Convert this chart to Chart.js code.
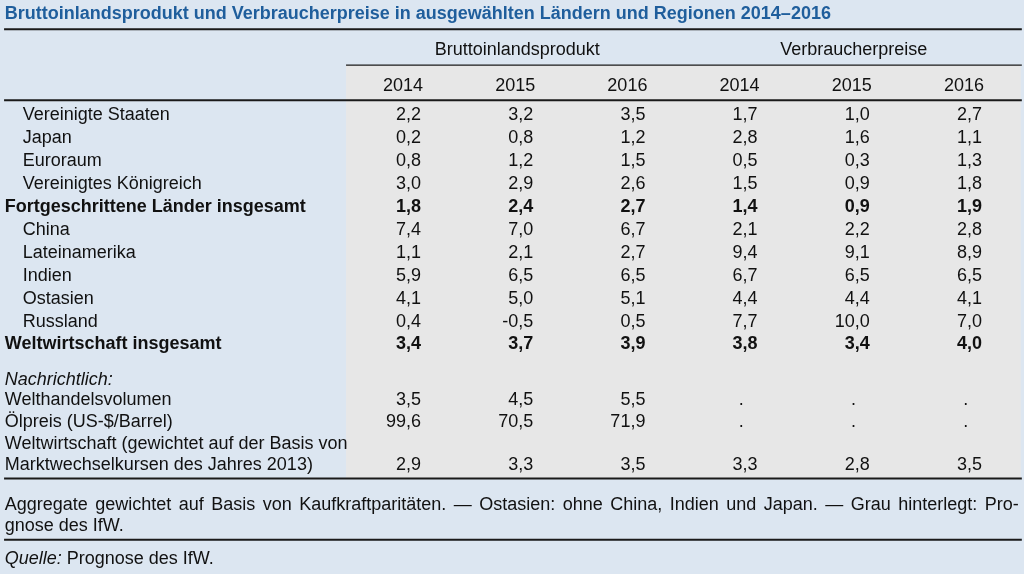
<!DOCTYPE html>
<html><head><meta charset="utf-8">
<script src="https://cdn.jsdelivr.net/npm/chart.js@4/dist/chart.umd.min.js"></script>
<style>html,body{margin:0;padding:0;background:#dce6f1;overflow:hidden}#wrap{width:1024px;height:574px}</style>
</head><body><div id="wrap"><canvas id="c" width="1024" height="574"></canvas></div>
<script>
// ---------------- DATA ----------------
const title = 'Bruttoinlandsprodukt und Verbraucherpreise in ausgewählten Ländern und Regionen 2014–2016';
const groupHeaders = ['Bruttoinlandsprodukt', 'Verbraucherpreise'];
const years = ['2014', '2015', '2016', '2014', '2015', '2016'];
const categories = [
  'Vereinigte Staaten', 'Japan', 'Euroraum', 'Vereinigtes Königreich',
  'Fortgeschrittene Länder insgesamt', 'China', 'Lateinamerika', 'Indien',
  'Ostasien', 'Russland', 'Weltwirtschaft insgesamt', 'Nachrichtlich:',
  'Welthandelsvolumen', 'Ölpreis (US-$/Barrel)',
  'Weltwirtschaft (gewichtet auf der Basis von\nMarktwechselkursen des Jahres 2013)'
];
const bip2014 = [2.2, 0.2, 0.8, 3.0, 1.8, 7.4, 1.1, 5.9, 4.1, 0.4, 3.4, null, 3.5, 99.6, 2.9];
const bip2015 = [3.2, 0.8, 1.2, 2.9, 2.4, 7.0, 2.1, 6.5, 5.0, -0.5, 3.7, null, 4.5, 70.5, 3.3];
const bip2016 = [3.5, 1.2, 1.5, 2.6, 2.7, 6.7, 2.7, 6.5, 5.1, 0.5, 3.9, null, 5.5, 71.9, 3.5];
const vpi2014 = [1.7, 2.8, 0.5, 1.5, 1.4, 2.1, 9.4, 6.7, 4.4, 7.7, 3.8, null, '.', '.', 3.3];
const vpi2015 = [1.0, 1.6, 0.3, 0.9, 0.9, 2.2, 9.1, 6.5, 4.4, 10.0, 3.4, null, '.', '.', 2.8];
const vpi2016 = [2.7, 1.1, 1.3, 1.8, 1.9, 2.8, 8.9, 6.5, 4.1, 7.0, 4.0, null, '.', '.', 3.5];
const footnote = 'Aggregate gewichtet auf Basis von Kaufkraftparitäten. — Ostasien: ohne China, Indien und Japan. — Grau hinterlegt: Pro-|gnose des IfW.';
const sourceLabel = 'Quelle:';
const sourceText = ' Prognose des IfW.';

// ---------------- LAYOUT / STYLE ----------------
const series = [bip2014, bip2015, bip2016, vpi2014, vpi2015, vpi2016];
const rowStyle = ['indent','indent','indent','indent','bold','indent','indent','indent','indent','indent','bold','italic','plain','plain','plain'];
const rowSlot = [0,1,2,3,4,5,6,7,8,9,10,11.53,12.42,13.4,15.27];
const X0 = 421, XU = 112.2, Y0 = 114, YU = 22.9, W = 1024, H = 574;
const FS = 18, TDY = 1.5;
const FONT = FS + 'px "Liberation Sans", Arial, Helvetica, sans-serif';
const BG = '#dce6f1', GREY = '#e7e7e7', INK = '#111111', LINE = '#1a1a1a', TITLE = '#1f5e9c';
const U = { // layout in scale units
  labelX: -3.71, indentX: -3.55, greyL: -0.668, greyR: 5.345, lineL: -3.716, lineR: 5.355,
  titleY: -4.45, topLine: -3.70, groupY: -2.84, groupLine: -2.135, yearY: -1.27, headLine: -0.605,
  tableEnd: 15.92, footY1: 17.0, footY2: 17.93, footLine: 18.59, srcY: 19.38, weltLine1: 14.35,
  dotOff: -0.145
};

const fmt = v => (v === '.' ? '.' : v.toFixed(1).replace('.', ','));

const tablePlugin = {
  id: 'tableDraw',
  beforeDatasetsDraw(chart) {
    const ctx = chart.ctx, xs = chart.scales.x, ys = chart.scales.y;
    const px = v => xs.getPixelForValue(v), py = v => ys.getPixelForValue(v);
    const ty = v => ys.getPixelForValue(v) + TDY;
    ctx.save();
    ctx.fillStyle = BG; ctx.fillRect(0, 0, W, H);
    ctx.fillStyle = GREY;
    ctx.fillRect(px(U.greyL), py(U.groupLine), px(U.greyR) - px(U.greyL), py(U.tableEnd) - py(U.groupLine));
    const hline = (x1, x2, y, w) => { ctx.strokeStyle = LINE; ctx.lineWidth = w; ctx.beginPath(); ctx.moveTo(px(x1), py(y)); ctx.lineTo(px(x2), py(y)); ctx.stroke(); };
    hline(U.lineL, U.lineR, U.topLine, 2);
    hline(U.greyL, U.lineR, U.groupLine, 1.3);
    hline(U.lineL, U.lineR, U.headLine, 2);
    hline(U.lineL, U.lineR, U.tableEnd, 2);
    hline(U.lineL, U.lineR, U.footLine, 2);
    ctx.textBaseline = 'middle';
    ctx.fillStyle = TITLE; ctx.font = 'bold ' + FONT; ctx.textAlign = 'left';
    ctx.fillText(title, px(U.labelX), ty(U.titleY));
    ctx.fillStyle = INK; ctx.font = FONT; ctx.textAlign = 'center';
    ctx.fillText(groupHeaders[0], (px(0) + px(2)) / 2 - 16, ty(U.groupY));
    ctx.fillText(groupHeaders[1], (px(3) + px(5)) / 2 - 16, ty(U.groupY));
    ctx.textAlign = 'right';
    years.forEach((y, c) => ctx.fillText(y, px(c) + 2, ty(U.yearY)));
    ctx.textAlign = 'left';
    categories.forEach((lab, i) => {
      const st = rowStyle[i];
      ctx.font = (st === 'bold' ? 'bold ' : st === 'italic' ? 'italic ' : '') + FONT;
      const x = st === 'indent' ? px(U.indentX) : px(U.labelX);
      const parts = lab.split('\n');
      if (parts.length === 2) {
        ctx.fillText(parts[0], x, ty(U.weltLine1));
        ctx.fillText(parts[1], x, ty(rowSlot[i]));
      } else ctx.fillText(lab, x, ty(rowSlot[i]));
    });
    ctx.font = FONT;
    const [f1, f2] = footnote.split('|');
    const words = f1.split(' ');
    const left = px(U.labelX), right = px(U.lineR) - 3;
    const wsum = words.reduce((s, w) => s + ctx.measureText(w).width, 0);
    const gap = (right - left - wsum) / (words.length - 1);
    let x = left;
    words.forEach(w => { ctx.fillText(w, x, ty(U.footY1)); x += ctx.measureText(w).width + gap; });
    ctx.fillText(f2, left, ty(U.footY2));
    ctx.font = 'italic ' + FONT;
    ctx.fillText(sourceLabel, left, ty(U.srcY));
    const sw = ctx.measureText(sourceLabel).width;
    ctx.font = FONT;
    ctx.fillText(sourceText, left + sw, ty(U.srcY));
    ctx.restore();
  },
  afterDatasetsDraw(chart) {
    const ctx = chart.ctx;
    ctx.save();
    ctx.textBaseline = 'middle'; ctx.fillStyle = INK;
    chart.data.datasets.forEach((ds, di) => {
      const meta = chart.getDatasetMeta(di);
      meta.data.forEach((el, i) => {
        const raw = ds.data[i];
        if (raw.v === null || raw.v === undefined) return;
        ctx.font = (rowStyle[raw.row] === 'bold' ? 'bold ' : '') + FONT;
        if (raw.v === '.') {
          ctx.textAlign = 'center';
          ctx.fillText('.', el.x + U.dotOff * XU, el.y + TDY);
        } else {
          ctx.textAlign = 'right';
          ctx.fillText(fmt(raw.v), el.x, el.y + TDY);
        }
      });
    });
    ctx.restore();
  }
};

new Chart(document.getElementById('c'), {
  type: 'scatter',
  data: {
    datasets: series.map((arr, c) => ({
      label: groupHeaders[c < 3 ? 0 : 1] + ' ' + years[c],
      data: arr.map((v, i) => ({ x: c, y: rowSlot[i], v: v, row: i })),
      pointRadius: 0, pointHoverRadius: 0, showLine: false
    }))
  },
  options: {
    responsive: false, animation: false, events: [],
    layout: { padding: 0 },
    plugins: { legend: { display: false }, tooltip: { enabled: false }, title: { display: false } },
    scales: {
      x: { type: 'linear', display: false, min: -X0 / XU, max: (W - X0) / XU },
      y: { type: 'linear', display: false, reverse: true, min: -Y0 / YU, max: (H - Y0) / YU }
    }
  },
  plugins: [tablePlugin]
});
</script>
</body></html>
